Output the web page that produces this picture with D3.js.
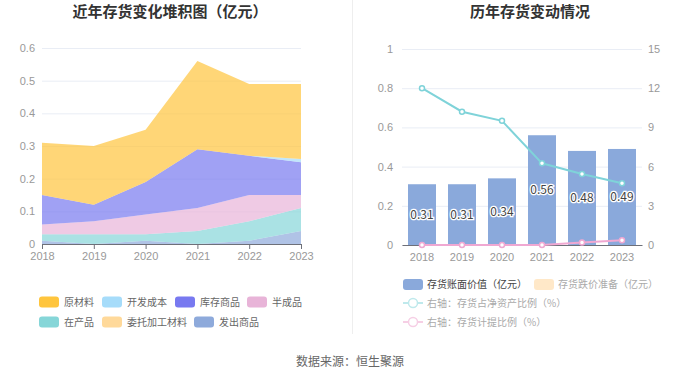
<!DOCTYPE html>
<html>
<head>
<meta charset="utf-8">
<script src="https://cdn.jsdelivr.net/npm/d3@7"></script>
<style>
  body { margin: 0; background: #fff; }
  svg { display: block; font-family: "Noto Sans CJK SC", "Noto Sans", sans-serif; }
</style>
</head>
<body>
<svg id="chart" width="700" height="378"></svg>
<script>
// categories
const years = ['2018', '2019', '2020', '2021', '2022', '2023'];

// left: stacked inventory components (亿元)
const rawMaterial = [0.16, 0.18, 0.16, 0.27, 0.22, 0.23];   // 原材料
const devCost = [0, 0, 0, 0, 0, 0.01];                     // 开发成本
const stockGoods = [0.09, 0.05, 0.10, 0.18, 0.12, 0.10];   // 库存商品
const semiFinished = [0.03, 0.04, 0.06, 0.07, 0.08, 0.04]; // 半成品
const wip = [0.02, 0.03, 0.02, 0.04, 0.06, 0.07];          // 在产品
const consigned = [0, 0, 0, 0, 0, 0];                      // 委托加工材料
const shipped = [0.01, 0, 0.01, 0, 0.01, 0.04];            // 发出商品
const leftTicks = [0, 0.1, 0.2, 0.3, 0.4, 0.5, 0.6];

// right: book value bars + two ratio lines
const bookValue = [0.31, 0.31, 0.34, 0.56, 0.48, 0.49];    // 存货账面价值（亿元）
const netAssetRatio = [12.0, 10.2, 9.5, 6.25, 5.43, 4.72]; // 存货占净资产比例（%）
const provisionRatio = [0, 0, 0, 0, 0.2, 0.37];            // 存货计提比例（%）
const rightTicksL = [0, 0.2, 0.4, 0.6, 0.8, 1];
const rightTicksR = [0, 3, 6, 9, 12, 15];

const svg = d3.select('#chart');
const axisColor = '#999';
const gridColor = '#e9edf5';

// separator between the two panels
svg.append('line')
  .attr('x1', 352.5).attr('x2', 352.5).attr('y1', 0).attr('y2', 334)
  .attr('stroke', '#eee');

// titles
svg.append('text').attr('x', 170).attr('y', 17).attr('text-anchor', 'middle')
  .attr('font-size', 15).attr('font-weight', 'bold').attr('fill', '#333')
  .text('近年存货变化堆积图（亿元）');
svg.append('text').attr('x', 530).attr('y', 17).attr('text-anchor', 'middle')
  .attr('font-size', 15).attr('font-weight', 'bold').attr('fill', '#333')
  .text('历年存货变动情况');

// ---------- left stacked area ----------
const layers = [
  { name: '原材料', values: rawMaterial, color: '#ffc53d' },
  { name: '开发成本', values: devCost, color: '#a6dcfa' },
  { name: '库存商品', values: stockGoods, color: '#7879f0' },
  { name: '半成品', values: semiFinished, color: '#e8b4d8' },
  { name: '在产品', values: wip, color: '#86d6d8' },
  { name: '委托加工材料', values: consigned, color: '#ffd99a' },
  { name: '发出商品', values: shipped, color: '#8eaadb' }
];

const xL = d3.scalePoint().domain(years).range([42, 301]);
const yL = d3.scaleLinear().domain([0, 0.6]).range([244, 48]);

const left = svg.append('g');

left.append('g')
  .attr('transform', 'translate(42,0)')
  .call(d3.axisLeft(yL).tickValues(leftTicks).tickSize(-259).tickFormat(d => d === 0 ? '0' : d3.format('.1f')(d)))
  .call(g => g.select('.domain').remove())
  .call(g => g.selectAll('.tick line').attr('stroke', gridColor))
  .call(g => g.selectAll('.tick text').attr('x', -7).attr('fill', axisColor).attr('font-size', 11));

// stack: last layer in list sits at the bottom
const rows = years.map((y, i) => {
  const r = { year: y };
  layers.forEach(l => { r[l.name] = l.values[i]; });
  return r;
});
const stackKeys = layers.map(l => l.name).reverse();
const stacked = d3.stack().keys(stackKeys)(rows);

const area = d3.area()
  .x(d => xL(d.data.year))
  .y0(d => yL(d[0]))
  .y1(d => yL(d[1]));

left.selectAll('path.layer')
  .data(stacked)
  .enter()
  .append('path')
  .attr('class', 'layer')
  .attr('d', area)
  .attr('fill', d => layers.find(l => l.name === d.key).color)
  .attr('fill-opacity', 0.7);

left.append('g')
  .attr('transform', 'translate(0,244)')
  .call(d3.axisBottom(xL).tickSize(5).tickPadding(3))
  .call(g => g.select('.domain').attr('stroke', '#6e7079'))
  .call(g => g.selectAll('.tick line').attr('stroke', '#6e7079'))
  .call(g => g.selectAll('.tick text').attr('fill', axisColor).attr('font-size', 11));

// left legend
const legendPos = [
  [39, 302], [102, 302], [175, 302], [247, 302],
  [39, 322], [102, 322], [194, 322]
];
layers.forEach((l, i) => {
  const [lx, ly] = legendPos[i];
  const g = svg.append('g').attr('transform', `translate(${lx},${ly})`);
  g.append('rect').attr('x', 0).attr('y', -5.5).attr('width', 20).attr('height', 11)
    .attr('rx', 3).attr('fill', l.color);
  g.append('text').attr('x', 25).attr('y', 3.5).attr('font-size', 10).attr('fill', '#666').text(l.name);
});

// ---------- right bar + lines ----------
const xR = d3.scaleBand().domain(years).range([402, 642]);
const yR = d3.scaleLinear().domain([0, 1]).range([245, 49]);
const yR2 = d3.scaleLinear().domain([0, 15]).range([245, 49]);

const right = svg.append('g');

right.append('g')
  .attr('transform', 'translate(402,0)')
  .call(d3.axisLeft(yR).tickValues(rightTicksL).tickSize(-240).tickFormat(d => String(d)))
  .call(g => g.select('.domain').remove())
  .call(g => g.selectAll('.tick line').attr('stroke', gridColor))
  .call(g => g.selectAll('.tick text').attr('x', -9).attr('fill', axisColor).attr('font-size', 11));

right.append('g')
  .attr('transform', 'translate(642,0)')
  .call(d3.axisRight(yR2).tickValues(rightTicksR).tickSize(0).tickPadding(6))
  .call(g => g.select('.domain').remove())
  .call(g => g.selectAll('.tick text').attr('fill', axisColor).attr('font-size', 11));

const barW = xR.bandwidth() * 0.7;
right.selectAll('rect.bar')
  .data(bookValue)
  .enter()
  .append('rect')
  .attr('class', 'bar')
  .attr('x', (d, i) => xR(years[i]) + (xR.bandwidth() - barW) / 2)
  .attr('y', d => yR(d))
  .attr('width', barW)
  .attr('height', d => yR(0) - yR(d))
  .attr('fill', '#8aa9db');

right.append('g')
  .attr('transform', 'translate(0,245)')
  .call(d3.axisBottom(xR).tickSize(0).tickPadding(8))
  .call(g => g.select('.domain').attr('stroke', '#6e7079'))
  .call(g => g.selectAll('.tick text').attr('fill', axisColor).attr('font-size', 11));

right.selectAll('text.barlabel')
  .data(bookValue)
  .enter()
  .append('text')
  .attr('class', 'barlabel')
  .attr('x', (d, i) => xR(years[i]) + xR.bandwidth() / 2)
  .attr('y', d => (yR(d) + yR(0)) / 2 + 4)
  .attr('text-anchor', 'middle')
  .attr('font-size', 12)
  .attr('fill', '#444')
  .attr('stroke', '#fff')
  .attr('stroke-width', 2.5)
  .attr('paint-order', 'stroke')
  .text(d => d.toFixed(2));

const lineGen = d3.line()
  .x((d, i) => xR(years[i]) + xR.bandwidth() / 2)
  .y(d => yR2(d));

function drawLine(values, color) {
  right.append('path')
    .datum(values)
    .attr('d', lineGen)
    .attr('fill', 'none')
    .attr('stroke', color)
    .attr('stroke-width', 2);
  right.selectAll(null)
    .data(values)
    .enter()
    .append('circle')
    .attr('cx', (d, i) => xR(years[i]) + xR.bandwidth() / 2)
    .attr('cy', d => yR2(d))
    .attr('r', 2.5)
    .attr('fill', '#fff')
    .attr('stroke', color)
    .attr('stroke-width', 1.5);
}
drawLine(netAssetRatio, '#7fd3d9');
drawLine(provisionRatio, '#f0a8d2');

// right legend
const rl = svg.append('g');
rl.append('rect').attr('x', 403).attr('y', 279).attr('width', 20).attr('height', 11).attr('rx', 3).attr('fill', '#8aa9db');
rl.append('text').attr('x', 427).attr('y', 288).attr('font-size', 10).attr('fill', '#444').text('存货账面价值（亿元）');
rl.append('rect').attr('x', 534).attr('y', 279).attr('width', 20).attr('height', 11).attr('rx', 3).attr('fill', '#ffe8c8');
rl.append('text').attr('x', 558).attr('y', 288).attr('font-size', 10).attr('fill', '#aaa').text('存货跌价准备（亿元）');

[['右轴：存货占净资产比例（%）', '#bfe9ec', 303], ['右轴：存货计提比例（%）', '#f6cfe5', 322]].forEach(([t, c, ly]) => {
  rl.append('line').attr('x1', 403).attr('x2', 423).attr('y1', ly).attr('y2', ly).attr('stroke', c).attr('stroke-width', 2);
  rl.append('circle').attr('cx', 413).attr('cy', ly).attr('r', 4.5).attr('fill', '#fff').attr('stroke', c).attr('stroke-width', 1.5);
  rl.append('text').attr('x', 427).attr('y', ly + 3.5).attr('font-size', 10).attr('fill', '#aaa').text(t);
});

// source
svg.append('text').attr('x', 350).attr('y', 366).attr('text-anchor', 'middle')
  .attr('font-size', 12).attr('fill', '#666').text('数据来源：恒生聚源');
</script>
</body>
</html>
